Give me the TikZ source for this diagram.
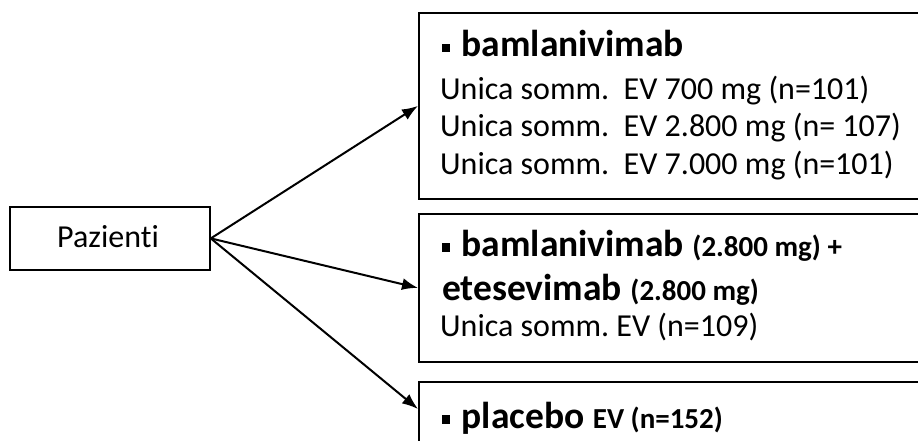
\documentclass[tikz,border=0pt]{standalone}
\usepackage{fontspec}
\setmainfont{Carlito}[Ligatures=NoCommon]
\usetikzlibrary{arrows.meta}

\tikzset{
  box/.style={draw, line width=1.8pt, anchor=north west, minimum width=540pt, inner sep=0pt},
  txt/.style={anchor=base west, inner sep=0pt, font=\fontsize{32}{38}\selectfont},
  head/.style={anchor=base west, inner sep=0pt, font=\fontsize{37.5}{45}\selectfont\bfseries},
  link/.style={line width=2pt, -{Latex[length=16pt,width=12pt]}}
}
\newcommand{\blt}{\raisebox{0.12em}{\rule{0.22em}{0.22em}}\hspace{0.3em}}
\newcommand{\dose}[1]{{\fontsize{29}{35}\selectfont #1}}
\frenchspacing

\begin{document}
\begin{tikzpicture}[x=1pt,y=-1pt]
\useasboundingbox (0,0) rectangle (918,441);
\clip (0,0) rectangle (918,441);

% boxes
\node[box, minimum width=200pt, minimum height=63pt] (paz) at (9,206) {};
\node[box, minimum height=186pt] (bam) at (418,12) {};
\node[box, minimum height=148pt] (combo) at (418,213) {};
\node[box, minimum height=120pt] (plac) at (418,381) {};
\coordinate (placin) at (418,409);

% texts
\node[txt, anchor=base] (paztxt) at (108,247) {Pazienti};
\node[head] (bamhead) at (442,57) {\blt bamlanivimab};
\node[txt] (bamone) at (440,100) {Unica somm.\ \ EV 700 mg (n=101)};
\node[txt] (bamtwo) at (440,137) {Unica somm.\ \ EV 2.800 mg (n= 107)};
\node[txt] (bamthree) at (440,175) {Unica somm.\ \ EV 7.000 mg (n=101)};
\node[head] (combohead) at (442,256) {\blt bamlanivimab \dose{(2.800 mg) +}};
\node[head] (combotwo) at (442,300) {etesevimab \dose{(2.800 mg)}};
\node[txt] (combothree) at (440,336) {Unica somm. EV (n=109)};
\node[head] (plachead) at (442,428) {\blt placebo \dose{EV (n=152)}};

% arrows
\draw[link] (paz.east) -- (bam.west);
\draw[link] (paz.east) -- (combo.west);
\draw[link] (paz.east) -- (placin);

\end{tikzpicture}
\end{document}
